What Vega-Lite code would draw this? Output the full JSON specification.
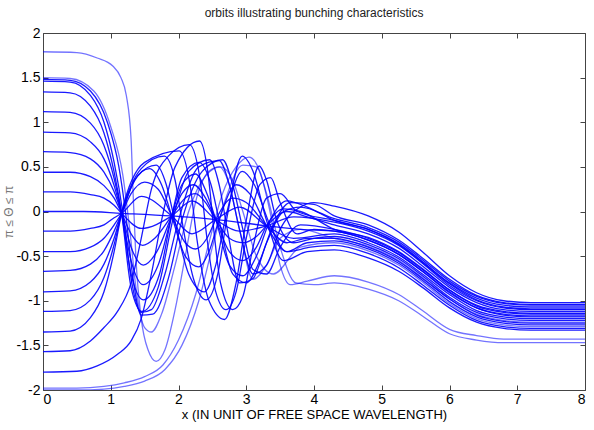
{
"$schema": "https://vega.github.io/schema/vega-lite/v6.json",
"width": 542, "height": 357,
"autosize": {"type": "none"},
"padding": {"left": 43, "top": 33, "right": 9, "bottom": 40},
"background": "white",
"title": {"text": "orbits illustrating bunching characteristics", "fontSize": 12, "font": "Liberation Sans", "fontWeight": "normal", "color": "#222", "offset": 6, "anchor": "middle"},
"config": {"view": {"stroke": "#444", "strokeWidth": 1}, "axis": {"grid": false, "labelFont": "Liberation Sans", "titleFont": "Liberation Sans", "labelColor": "#000", "titleColor": "#000", "tickColor": "#444", "domainColor": "#444", "titleFontWeight": "normal"}},
"data": {"values": [
{"c":"P1","x":0,"y":0.22},{"c":"P1","x":0.4,"y":0.22},{"c":"P1","x":0.7,"y":0.19},{"c":"P1","x":0.9,"y":0.15},{"c":"P1","x":1.05,"y":0.07},{"c":"P1","x":1.16,"y":-0.02},{"c":"P1","x":1.45,"y":-0.19},{"c":"P1","x":1.9,"y":-0.05},{"c":"P1","x":2.2,"y":0.12},{"c":"P1","x":2.55,"y":-0.09},{"c":"P1","x":2.9,"y":-0.22},{"c":"P1","x":3.3,"y":-0.16},{"c":"P1","x":3.7,"y":-0.06},{"c":"P1","x":4.3,"y":-0.12},{"c":"P1","x":4.8,"y":-0.22},{"c":"P1","x":5.25,"y":-0.38},{"c":"P1","x":5.6,"y":-0.58},{"c":"P1","x":6.0,"y":-0.83},{"c":"P1","x":6.4,"y":-1.0},{"c":"P1","x":6.8,"y":-1.08},{"c":"P1","x":7.2,"y":-1.1},{"c":"P1","x":8,"y":-1.1},
{"c":"P2","x":0,"y":0.44},{"c":"P2","x":0.4,"y":0.44},{"c":"P2","x":0.7,"y":0.39},{"c":"P2","x":0.9,"y":0.29},{"c":"P2","x":1.05,"y":0.15},{"c":"P2","x":1.16,"y":-0.02},{"c":"P2","x":1.3,"y":-0.25},{"c":"P2","x":1.47,"y":-0.38},{"c":"P2","x":1.65,"y":-0.3},{"c":"P2","x":1.9,"y":-0.05},{"c":"P2","x":2.1,"y":0.15},{"c":"P2","x":2.25,"y":0.2},{"c":"P2","x":2.4,"y":0.1},{"c":"P2","x":2.55,"y":-0.09},{"c":"P2","x":2.75,"y":-0.3},{"c":"P2","x":2.95,"y":-0.35},{"c":"P2","x":3.15,"y":-0.28},{"c":"P2","x":3.3,"y":-0.16},{"c":"P2","x":3.6,"y":0.0},{"c":"P2","x":3.9,"y":-0.06},{"c":"P2","x":4.3,"y":-0.15},{"c":"P2","x":4.8,"y":-0.25},{"c":"P2","x":5.25,"y":-0.41},{"c":"P2","x":5.6,"y":-0.61},{"c":"P2","x":6.0,"y":-0.85},{"c":"P2","x":6.4,"y":-1.02},{"c":"P2","x":6.8,"y":-1.1},{"c":"P2","x":7.2,"y":-1.12},{"c":"P2","x":8,"y":-1.12},
{"c":"P3","x":0,"y":0.67},{"c":"P3","x":0.4,"y":0.66},{"c":"P3","x":0.7,"y":0.59},{"c":"P3","x":0.9,"y":0.44},{"c":"P3","x":1.05,"y":0.22},{"c":"P3","x":1.16,"y":-0.02},{"c":"P3","x":1.3,"y":-0.4},{"c":"P3","x":1.48,"y":-0.6},{"c":"P3","x":1.68,"y":-0.45},{"c":"P3","x":1.9,"y":-0.05},{"c":"P3","x":2.05,"y":0.2},{"c":"P3","x":2.22,"y":0.3},{"c":"P3","x":2.4,"y":0.15},{"c":"P3","x":2.55,"y":-0.09},{"c":"P3","x":2.75,"y":-0.45},{"c":"P3","x":2.95,"y":-0.55},{"c":"P3","x":3.15,"y":-0.4},{"c":"P3","x":3.3,"y":-0.16},{"c":"P3","x":3.55,"y":0.03},{"c":"P3","x":3.8,"y":0.0},{"c":"P3","x":4.3,"y":-0.2},{"c":"P3","x":4.8,"y":-0.29},{"c":"P3","x":5.25,"y":-0.45},{"c":"P3","x":5.6,"y":-0.64},{"c":"P3","x":6.0,"y":-0.88},{"c":"P3","x":6.4,"y":-1.05},{"c":"P3","x":6.8,"y":-1.12},{"c":"P3","x":7.2,"y":-1.14},{"c":"P3","x":8,"y":-1.14},
{"c":"P4","x":0,"y":0.89},{"c":"P4","x":0.4,"y":0.88},{"c":"P4","x":0.7,"y":0.78},{"c":"P4","x":0.9,"y":0.59},{"c":"P4","x":1.05,"y":0.29},{"c":"P4","x":1.16,"y":-0.02},{"c":"P4","x":1.3,"y":-0.55},{"c":"P4","x":1.48,"y":-0.82},{"c":"P4","x":1.7,"y":-0.6},{"c":"P4","x":1.9,"y":-0.05},{"c":"P4","x":2.05,"y":0.3},{"c":"P4","x":2.25,"y":0.42},{"c":"P4","x":2.42,"y":0.2},{"c":"P4","x":2.55,"y":-0.09},{"c":"P4","x":2.75,"y":-0.6},{"c":"P4","x":2.95,"y":-0.72},{"c":"P4","x":3.15,"y":-0.5},{"c":"P4","x":3.35,"y":-0.1},{"c":"P4","x":3.6,"y":0.12},{"c":"P4","x":3.9,"y":0.05},{"c":"P4","x":4.3,"y":-0.1},{"c":"P4","x":4.8,"y":-0.2},{"c":"P4","x":5.25,"y":-0.37},{"c":"P4","x":5.6,"y":-0.57},{"c":"P4","x":6.0,"y":-0.81},{"c":"P4","x":6.4,"y":-0.99},{"c":"P4","x":6.8,"y":-1.07},{"c":"P4","x":7.2,"y":-1.09},{"c":"P4","x":8,"y":-1.09},
{"c":"P5","x":0,"y":1.12},{"c":"P5","x":0.4,"y":1.11},{"c":"P5","x":0.7,"y":0.99},{"c":"P5","x":0.9,"y":0.74},{"c":"P5","x":1.05,"y":0.37},{"c":"P5","x":1.16,"y":-0.02},{"c":"P5","x":1.3,"y":-0.7},{"c":"P5","x":1.48,"y":-0.99},{"c":"P5","x":1.72,"y":-0.7},{"c":"P5","x":1.9,"y":-0.05},{"c":"P5","x":2.05,"y":0.38},{"c":"P5","x":2.3,"y":0.55},{"c":"P5","x":2.48,"y":0.3},{"c":"P5","x":2.6,"y":-0.1},{"c":"P5","x":2.8,"y":-0.7},{"c":"P5","x":3.0,"y":-0.8},{"c":"P5","x":3.2,"y":-0.55},{"c":"P5","x":3.4,"y":-0.15},{"c":"P5","x":3.65,"y":0.1},{"c":"P5","x":4.0,"y":0.08},{"c":"P5","x":4.3,"y":-0.05},{"c":"P5","x":4.8,"y":-0.15},{"c":"P5","x":5.25,"y":-0.32},{"c":"P5","x":5.6,"y":-0.52},{"c":"P5","x":6.0,"y":-0.76},{"c":"P5","x":6.4,"y":-0.94},{"c":"P5","x":6.8,"y":-1.02},{"c":"P5","x":7.2,"y":-1.04},{"c":"P5","x":8,"y":-1.04},
{"c":"P6","x":0,"y":1.34},{"c":"P6","x":0.4,"y":1.33},{"c":"P6","x":0.7,"y":1.18},{"c":"P6","x":0.9,"y":0.88},{"c":"P6","x":1.05,"y":0.44},{"c":"P6","x":1.16,"y":-0.02},{"c":"P6","x":1.3,"y":-0.85},{"c":"P6","x":1.46,"y":-1.12},{"c":"P6","x":1.7,"y":-0.85},{"c":"P6","x":1.93,"y":-0.05},{"c":"P6","x":2.15,"y":0.45},{"c":"P6","x":2.46,"y":0.58},{"c":"P6","x":2.6,"y":0.3},{"c":"P6","x":2.72,"y":-0.2},{"c":"P6","x":2.9,"y":-0.8},{"c":"P6","x":3.1,"y":-0.75},{"c":"P6","x":3.3,"y":-0.35},{"c":"P6","x":3.55,"y":0.0},{"c":"P6","x":3.8,"y":0.05},{"c":"P6","x":4.3,"y":-0.08},{"c":"P6","x":4.8,"y":-0.18},{"c":"P6","x":5.25,"y":-0.34},{"c":"P6","x":5.6,"y":-0.54},{"c":"P6","x":6.0,"y":-0.78},{"c":"P6","x":6.4,"y":-0.95},{"c":"P6","x":6.8,"y":-1.03},{"c":"P6","x":7.2,"y":-1.05},{"c":"P6","x":8,"y":-1.05},
{"c":"P7","x":0,"y":1.46},{"c":"P7","x":0.4,"y":1.45},{"c":"P7","x":0.7,"y":1.3},{"c":"P7","x":0.9,"y":1.0},{"c":"P7","x":1.05,"y":0.55},{"c":"P7","x":1.18,"y":-0.02},{"c":"P7","x":1.3,"y":-0.75},{"c":"P7","x":1.45,"y":-1.13},{"c":"P7","x":1.6,"y":-1.1},{"c":"P7","x":1.8,"y":-0.7},{"c":"P7","x":2.0,"y":-0.1},{"c":"P7","x":2.3,"y":0.5},{"c":"P7","x":2.6,"y":0.57},{"c":"P7","x":2.75,"y":0.3},{"c":"P7","x":2.9,"y":-0.2},{"c":"P7","x":3.1,"y":-0.7},{"c":"P7","x":3.3,"y":-0.6},{"c":"P7","x":3.5,"y":-0.2},{"c":"P7","x":3.8,"y":0.05},{"c":"P7","x":4.0,"y":0.1},{"c":"P7","x":4.3,"y":0.06},{"c":"P7","x":4.8,"y":-0.05},{"c":"P7","x":5.25,"y":-0.23},{"c":"P7","x":5.6,"y":-0.45},{"c":"P7","x":6.0,"y":-0.72},{"c":"P7","x":6.4,"y":-0.91},{"c":"P7","x":6.8,"y":-1.0},{"c":"P7","x":7.2,"y":-1.02},{"c":"P7","x":8,"y":-1.02},
{"c":"P8","x":0,"y":1.48},{"c":"P8","x":0.4,"y":1.47},{"c":"P8","x":0.7,"y":1.35},{"c":"P8","x":0.95,"y":1.0},{"c":"P8","x":1.12,"y":0.5},{"c":"P8","x":1.22,"y":-0.02},{"c":"P8","x":1.32,"y":-0.7},{"c":"P8","x":1.45,"y":-1.16},{"c":"P8","x":1.62,"y":-1.15},{"c":"P8","x":1.85,"y":-0.75},{"c":"P8","x":2.05,"y":-0.1},{"c":"P8","x":2.35,"y":0.45},{"c":"P8","x":2.65,"y":0.58},{"c":"P8","x":2.8,"y":0.3},{"c":"P8","x":2.95,"y":-0.2},{"c":"P8","x":3.1,"y":-0.65},{"c":"P8","x":3.3,"y":-0.7},{"c":"P8","x":3.5,"y":-0.4},{"c":"P8","x":3.8,"y":-0.15},{"c":"P8","x":4.3,"y":-0.2},{"c":"P8","x":4.8,"y":-0.3},{"c":"P8","x":5.25,"y":-0.46},{"c":"P8","x":5.6,"y":-0.65},{"c":"P8","x":6.0,"y":-0.88},{"c":"P8","x":6.4,"y":-1.06},{"c":"P8","x":6.8,"y":-1.13},{"c":"P8","x":7.2,"y":-1.15},{"c":"P8","x":8,"y":-1.15},
{"c":"P9","x":0,"y":1.5},{"c":"P9","x":0.4,"y":1.49},{"c":"P9","x":0.75,"y":1.35},{"c":"P9","x":1.0,"y":0.95},{"c":"P9","x":1.18,"y":0.4},{"c":"P9","x":1.28,"y":-0.2},{"c":"P9","x":1.38,"y":-0.9},{"c":"P9","x":1.5,"y":-1.3},{"c":"P9","x":1.6,"y":-1.35},{"c":"P9","x":1.75,"y":-1.15},{"c":"P9","x":1.95,"y":-0.6},{"c":"P9","x":2.15,"y":0.0},{"c":"P9","x":2.4,"y":0.4},{"c":"P9","x":2.62,"y":0.5},{"c":"P9","x":2.8,"y":0.35},{"c":"P9","x":2.95,"y":0.0},{"c":"P9","x":3.15,"y":-0.5},{"c":"P9","x":3.4,"y":-0.7},{"c":"P9","x":3.8,"y":-0.4},{"c":"P9","x":4.3,"y":-0.35},{"c":"P9","x":4.8,"y":-0.44},{"c":"P9","x":5.25,"y":-0.6},{"c":"P9","x":5.6,"y":-0.79},{"c":"P9","x":6.0,"y":-1.03},{"c":"P9","x":6.4,"y":-1.2},{"c":"P9","x":6.8,"y":-1.27},{"c":"P9","x":7.2,"y":-1.29},{"c":"P9","x":8,"y":-1.29},
{"c":"P10","x":0,"y":1.79},{"c":"P10","x":0.5,"y":1.78},{"c":"P10","x":0.8,"y":1.72},{"c":"P10","x":1.03,"y":1.63},{"c":"P10","x":1.15,"y":1.5},{"c":"P10","x":1.23,"y":1.3},{"c":"P10","x":1.3,"y":0.81},{"c":"P10","x":1.33,"y":0.2},{"c":"P10","x":1.37,"y":-0.5},{"c":"P10","x":1.45,"y":-1.2},{"c":"P10","x":1.55,"y":-1.55},{"c":"P10","x":1.67,"y":-1.68},{"c":"P10","x":1.8,"y":-1.55},{"c":"P10","x":1.95,"y":-1.1},{"c":"P10","x":2.1,"y":-0.5},{"c":"P10","x":2.25,"y":0.1},{"c":"P10","x":2.45,"y":0.45},{"c":"P10","x":2.6,"y":0.5},{"c":"P10","x":2.75,"y":0.3},{"c":"P10","x":2.9,"y":-0.2},{"c":"P10","x":3.1,"y":-0.76},{"c":"P10","x":3.3,"y":-0.6},{"c":"P10","x":3.5,"y":-0.3},{"c":"P10","x":3.8,"y":-0.2},{"c":"P10","x":4.3,"y":-0.3},{"c":"P10","x":4.8,"y":-0.39},{"c":"P10","x":5.25,"y":-0.55},{"c":"P10","x":5.6,"y":-0.74},{"c":"P10","x":6.0,"y":-0.98},{"c":"P10","x":6.4,"y":-1.15},{"c":"P10","x":6.8,"y":-1.22},{"c":"P10","x":7.2,"y":-1.24},{"c":"P10","x":8,"y":-1.24},
{"c":"Z","x":0,"y":0},{"c":"Z","x":0.6,"y":0},{"c":"Z","x":1.16,"y":-0.02},{"c":"Z","x":1.9,"y":-0.05},{"c":"Z","x":2.55,"y":-0.09},{"c":"Z","x":3.3,"y":-0.16},{"c":"Z","x":3.8,"y":-0.2},{"c":"Z","x":4.3,"y":-0.22},{"c":"Z","x":4.8,"y":-0.32},{"c":"Z","x":5.25,"y":-0.48},{"c":"Z","x":5.6,"y":-0.67},{"c":"Z","x":6.0,"y":-0.9},{"c":"Z","x":6.4,"y":-1.08},{"c":"Z","x":6.8,"y":-1.15},{"c":"Z","x":7.2,"y":-1.17},{"c":"Z","x":8,"y":-1.17},
{"c":"N1","x":0,"y":-0.22},{"c":"N1","x":0.4,"y":-0.22},{"c":"N1","x":0.7,"y":-0.19},{"c":"N1","x":0.9,"y":-0.15},{"c":"N1","x":1.05,"y":-0.07},{"c":"N1","x":1.16,"y":-0.02},{"c":"N1","x":1.45,"y":0.17},{"c":"N1","x":1.9,"y":-0.05},{"c":"N1","x":2.2,"y":-0.25},{"c":"N1","x":2.55,"y":-0.09},{"c":"N1","x":2.9,"y":0.05},{"c":"N1","x":3.3,"y":-0.16},{"c":"N1","x":3.7,"y":-0.3},{"c":"N1","x":4.3,"y":-0.25},{"c":"N1","x":4.8,"y":-0.35},{"c":"N1","x":5.25,"y":-0.51},{"c":"N1","x":5.6,"y":-0.7},{"c":"N1","x":6.0,"y":-0.93},{"c":"N1","x":6.4,"y":-1.11},{"c":"N1","x":6.8,"y":-1.18},{"c":"N1","x":7.2,"y":-1.2},{"c":"N1","x":8,"y":-1.2},
{"c":"N2","x":0,"y":-0.45},{"c":"N2","x":0.4,"y":-0.45},{"c":"N2","x":0.7,"y":-0.4},{"c":"N2","x":0.9,"y":-0.3},{"c":"N2","x":1.05,"y":-0.15},{"c":"N2","x":1.16,"y":-0.02},{"c":"N2","x":1.3,"y":0.2},{"c":"N2","x":1.5,"y":0.33},{"c":"N2","x":1.7,"y":0.25},{"c":"N2","x":1.9,"y":-0.05},{"c":"N2","x":2.1,"y":-0.35},{"c":"N2","x":2.25,"y":-0.42},{"c":"N2","x":2.42,"y":-0.3},{"c":"N2","x":2.55,"y":-0.09},{"c":"N2","x":2.8,"y":0.15},{"c":"N2","x":3.0,"y":0.1},{"c":"N2","x":3.3,"y":-0.16},{"c":"N2","x":3.6,"y":-0.35},{"c":"N2","x":3.9,"y":-0.3},{"c":"N2","x":4.3,"y":-0.3},{"c":"N2","x":4.8,"y":-0.4},{"c":"N2","x":5.25,"y":-0.56},{"c":"N2","x":5.6,"y":-0.75},{"c":"N2","x":6.0,"y":-0.98},{"c":"N2","x":6.4,"y":-1.16},{"c":"N2","x":6.8,"y":-1.23},{"c":"N2","x":7.2,"y":-1.25},{"c":"N2","x":8,"y":-1.25},
{"c":"N3","x":0,"y":-0.67},{"c":"N3","x":0.4,"y":-0.66},{"c":"N3","x":0.7,"y":-0.59},{"c":"N3","x":0.9,"y":-0.44},{"c":"N3","x":1.05,"y":-0.22},{"c":"N3","x":1.16,"y":-0.02},{"c":"N3","x":1.35,"y":0.35},{"c":"N3","x":1.57,"y":0.48},{"c":"N3","x":1.75,"y":0.3},{"c":"N3","x":1.9,"y":-0.05},{"c":"N3","x":2.1,"y":-0.5},{"c":"N3","x":2.3,"y":-0.62},{"c":"N3","x":2.45,"y":-0.45},{"c":"N3","x":2.6,"y":-0.09},{"c":"N3","x":2.85,"y":0.3},{"c":"N3","x":3.05,"y":0.2},{"c":"N3","x":3.3,"y":-0.16},{"c":"N3","x":3.6,"y":-0.45},{"c":"N3","x":3.9,"y":-0.35},{"c":"N3","x":4.3,"y":-0.33},{"c":"N3","x":4.8,"y":-0.42},{"c":"N3","x":5.25,"y":-0.58},{"c":"N3","x":5.6,"y":-0.77},{"c":"N3","x":6.0,"y":-1.01},{"c":"N3","x":6.4,"y":-1.18},{"c":"N3","x":6.8,"y":-1.25},{"c":"N3","x":7.2,"y":-1.27},{"c":"N3","x":8,"y":-1.27},
{"c":"N4","x":0,"y":-0.9},{"c":"N4","x":0.4,"y":-0.89},{"c":"N4","x":0.7,"y":-0.79},{"c":"N4","x":0.9,"y":-0.59},{"c":"N4","x":1.05,"y":-0.3},{"c":"N4","x":1.16,"y":-0.02},{"c":"N4","x":1.4,"y":0.4},{"c":"N4","x":1.67,"y":0.52},{"c":"N4","x":1.82,"y":0.3},{"c":"N4","x":1.93,"y":-0.05},{"c":"N4","x":2.15,"y":-0.7},{"c":"N4","x":2.38,"y":-0.9},{"c":"N4","x":2.55,"y":-0.6},{"c":"N4","x":2.7,"y":-0.05},{"c":"N4","x":2.94,"y":0.45},{"c":"N4","x":3.12,"y":0.3},{"c":"N4","x":3.35,"y":-0.15},{"c":"N4","x":3.6,"y":-0.45},{"c":"N4","x":3.95,"y":-0.4},{"c":"N4","x":4.3,"y":-0.38},{"c":"N4","x":4.8,"y":-0.47},{"c":"N4","x":5.25,"y":-0.63},{"c":"N4","x":5.6,"y":-0.82},{"c":"N4","x":6.0,"y":-1.05},{"c":"N4","x":6.4,"y":-1.22},{"c":"N4","x":6.8,"y":-1.29},{"c":"N4","x":7.2,"y":-1.31},{"c":"N4","x":8,"y":-1.31},
{"c":"N5","x":0,"y":-1.12},{"c":"N5","x":0.4,"y":-1.11},{"c":"N5","x":0.7,"y":-0.99},{"c":"N5","x":0.9,"y":-0.74},{"c":"N5","x":1.05,"y":-0.37},{"c":"N5","x":1.16,"y":-0.02},{"c":"N5","x":1.45,"y":0.48},{"c":"N5","x":1.79,"y":0.62},{"c":"N5","x":1.95,"y":0.35},{"c":"N5","x":2.05,"y":-0.1},{"c":"N5","x":2.22,"y":-0.75},{"c":"N5","x":2.41,"y":-0.99},{"c":"N5","x":2.58,"y":-0.7},{"c":"N5","x":2.72,"y":-0.05},{"c":"N5","x":2.94,"y":0.62},{"c":"N5","x":3.1,"y":0.45},{"c":"N5","x":3.3,"y":-0.1},{"c":"N5","x":3.55,"y":-0.55},{"c":"N5","x":3.9,"y":-0.45},{"c":"N5","x":4.3,"y":-0.43},{"c":"N5","x":4.8,"y":-0.52},{"c":"N5","x":5.25,"y":-0.67},{"c":"N5","x":5.6,"y":-0.85},{"c":"N5","x":6.0,"y":-1.08},{"c":"N5","x":6.4,"y":-1.24},{"c":"N5","x":6.8,"y":-1.31},{"c":"N5","x":7.2,"y":-1.33},{"c":"N5","x":8,"y":-1.33},
{"c":"N6","x":0,"y":-1.35},{"c":"N6","x":0.4,"y":-1.34},{"c":"N6","x":0.7,"y":-1.19},{"c":"N6","x":0.9,"y":-0.9},{"c":"N6","x":1.05,"y":-0.45},{"c":"N6","x":1.16,"y":-0.02},{"c":"N6","x":1.5,"y":0.55},{"c":"N6","x":2.01,"y":0.68},{"c":"N6","x":2.17,"y":0.3},{"c":"N6","x":2.27,"y":-0.3},{"c":"N6","x":2.45,"y":-1.0},{"c":"N6","x":2.68,"y":-1.21},{"c":"N6","x":2.85,"y":-0.8},{"c":"N6","x":3.0,"y":-0.1},{"c":"N6","x":3.19,"y":0.51},{"c":"N6","x":3.3,"y":0.35},{"c":"N6","x":3.45,"y":-0.1},{"c":"N6","x":3.7,"y":-0.35},{"c":"N6","x":4.0,"y":-0.3},{"c":"N6","x":4.3,"y":-0.28},{"c":"N6","x":4.8,"y":-0.37},{"c":"N6","x":5.25,"y":-0.53},{"c":"N6","x":5.6,"y":-0.72},{"c":"N6","x":6.0,"y":-0.96},{"c":"N6","x":6.4,"y":-1.13},{"c":"N6","x":6.8,"y":-1.2},{"c":"N6","x":7.2,"y":-1.22},{"c":"N6","x":8,"y":-1.22},
{"c":"N7","x":0,"y":-1.57},{"c":"N7","x":0.4,"y":-1.56},{"c":"N7","x":0.7,"y":-1.45},{"c":"N7","x":0.9,"y":-1.3},{"c":"N7","x":1.1,"y":-1.12},{"c":"N7","x":1.3,"y":-0.8},{"c":"N7","x":1.45,"y":-0.3},{"c":"N7","x":1.6,"y":0.25},{"c":"N7","x":1.85,"y":0.62},{"c":"N7","x":2.16,"y":0.75},{"c":"N7","x":2.33,"y":0.3},{"c":"N7","x":2.42,"y":-0.3},{"c":"N7","x":2.55,"y":-0.9},{"c":"N7","x":2.7,"y":-1.1},{"c":"N7","x":2.85,"y":-0.9},{"c":"N7","x":3.0,"y":-0.3},{"c":"N7","x":3.2,"y":0.3},{"c":"N7","x":3.36,"y":0.38},{"c":"N7","x":3.5,"y":0.1},{"c":"N7","x":3.75,"y":-0.25},{"c":"N7","x":4.0,"y":-0.2},{"c":"N7","x":4.3,"y":-0.22},{"c":"N7","x":4.8,"y":-0.32},{"c":"N7","x":5.25,"y":-0.48},{"c":"N7","x":5.6,"y":-0.67},{"c":"N7","x":6.0,"y":-0.91},{"c":"N7","x":6.4,"y":-1.08},{"c":"N7","x":6.8,"y":-1.16},{"c":"N7","x":7.2,"y":-1.18},{"c":"N7","x":8,"y":-1.18},
{"c":"N8","x":0,"y":-1.8},{"c":"N8","x":0.5,"y":-1.79},{"c":"N8","x":0.8,"y":-1.73},{"c":"N8","x":1.1,"y":-1.6},{"c":"N8","x":1.3,"y":-1.45},{"c":"N8","x":1.45,"y":-1.2},{"c":"N8","x":1.6,"y":-0.7},{"c":"N8","x":1.75,"y":-0.1},{"c":"N8","x":1.95,"y":0.5},{"c":"N8","x":2.31,"y":0.79},{"c":"N8","x":2.44,"y":0.4},{"c":"N8","x":2.52,"y":-0.2},{"c":"N8","x":2.62,"y":-0.8},{"c":"N8","x":2.8,"y":-1.1},{"c":"N8","x":2.95,"y":-0.95},{"c":"N8","x":3.1,"y":-0.4},{"c":"N8","x":3.3,"y":0.15},{"c":"N8","x":3.5,"y":0.2},{"c":"N8","x":3.75,"y":0.0},{"c":"N8","x":4.3,"y":-0.1},{"c":"N8","x":4.8,"y":-0.2},{"c":"N8","x":5.25,"y":-0.36},{"c":"N8","x":5.6,"y":-0.56},{"c":"N8","x":6.0,"y":-0.8},{"c":"N8","x":6.4,"y":-0.97},{"c":"N8","x":6.8,"y":-1.05},{"c":"N8","x":7.2,"y":-1.07},{"c":"N8","x":8,"y":-1.07},
{"c":"N9","x":0,"y":-1.98},{"c":"N9","x":0.5,"y":-1.98},{"c":"N9","x":0.9,"y":-1.96},{"c":"N9","x":1.2,"y":-1.92},{"c":"N9","x":1.5,"y":-1.85},{"c":"N9","x":1.77,"y":-1.72},{"c":"N9","x":2.0,"y":-1.44},{"c":"N9","x":2.26,"y":-0.91},{"c":"N9","x":2.45,"y":-0.35},{"c":"N9","x":2.65,"y":0.2},{"c":"N9","x":2.85,"y":0.5},{"c":"N9","x":3.04,"y":0.61},{"c":"N9","x":3.2,"y":0.45},{"c":"N9","x":3.35,"y":0.0},{"c":"N9","x":3.5,"y":-0.6},{"c":"N9","x":3.65,"y":-0.82},{"c":"N9","x":3.9,"y":-0.78},{"c":"N9","x":4.3,"y":-0.72},{"c":"N9","x":4.8,"y":-0.79},{"c":"N9","x":5.25,"y":-0.93},{"c":"N9","x":5.6,"y":-1.11},{"c":"N9","x":6.0,"y":-1.32},{"c":"N9","x":6.4,"y":-1.39},{"c":"N9","x":6.8,"y":-1.43},{"c":"N9","x":7.2,"y":-1.43},{"c":"N9","x":8,"y":-1.43},
{"c":"N10","x":0,"y":-2.0},{"c":"N10","x":0.5,"y":-2.0},{"c":"N10","x":0.9,"y":-1.99},{"c":"N10","x":1.2,"y":-1.96},{"c":"N10","x":1.5,"y":-1.9},{"c":"N10","x":1.8,"y":-1.77},{"c":"N10","x":2.05,"y":-1.5},{"c":"N10","x":2.3,"y":-1.0},{"c":"N10","x":2.5,"y":-0.4},{"c":"N10","x":2.7,"y":0.15},{"c":"N10","x":2.95,"y":0.52},{"c":"N10","x":3.15,"y":0.5},{"c":"N10","x":3.3,"y":0.2},{"c":"N10","x":3.5,"y":-0.4},{"c":"N10","x":3.73,"y":-0.8},{"c":"N10","x":4.0,"y":-0.82},{"c":"N10","x":4.3,"y":-0.8},{"c":"N10","x":4.8,"y":-0.87},{"c":"N10","x":5.25,"y":-1.0},{"c":"N10","x":5.6,"y":-1.17},{"c":"N10","x":6.0,"y":-1.37},{"c":"N10","x":6.4,"y":-1.44},{"c":"N10","x":6.8,"y":-1.47},{"c":"N10","x":7.2,"y":-1.47},{"c":"N10","x":8,"y":-1.47}
]},
"layer": [
{"mark": {"type": "line", "interpolate": "monotone", "strokeWidth": 1.3, "clip": true, "color": "#0000ff"},
 "encoding": {
  "x": {"field": "x", "type": "quantitative", "scale": {"domain": [0, 8], "nice": false}, "axis": {"orient": "bottom", "values": [0,1,2,3,4,5,6,7,8], "title": "x (IN UNIT OF FREE SPACE WAVELENGTH)", "tickSize": -5, "labelPadding": 7, "labelFontSize": 14, "titleFontSize": 13, "titlePadding": 2, "domain": false}},
  "y": {"field": "y", "type": "quantitative", "scale": {"domain": [-2, 2], "nice": false}, "axis": {"orient": "left", "values": [-2,-1.5,-1,-0.5,0,0.5,1,1.5,2], "labelExpr": "'' + datum.value", "title": "π ≤ Θ ≤ π", "titleColor": "#777", "titleFontSize": 12, "titlePadding": 0, "tickSize": -5, "labelPadding": 8, "labelFontSize": 14, "domain": false}},
  "detail": {"field": "c"},
  "opacity": {"condition": {"test": "indexof(['P9','P10','N9','N10'], datum.c) >= 0", "value": 0.55}, "value": 0.9}
 }},
{"mark": {"type": "line", "strokeOpacity": 0},
 "encoding": {
  "x": {"field": "x", "type": "quantitative", "axis": {"orient": "top", "values": [0,1,2,3,4,5,6,7,8], "labels": false, "title": null, "tickSize": -5, "domain": false}},
  "y": {"field": "y", "type": "quantitative", "axis": {"orient": "right", "values": [-2,-1.5,-1,-0.5,0,0.5,1,1.5,2], "labels": false, "title": null, "tickSize": -5, "domain": false}},
  "detail": {"field": "c"}
 }}
],
"resolve": {"axis": {"x": "independent", "y": "independent"}}
}
